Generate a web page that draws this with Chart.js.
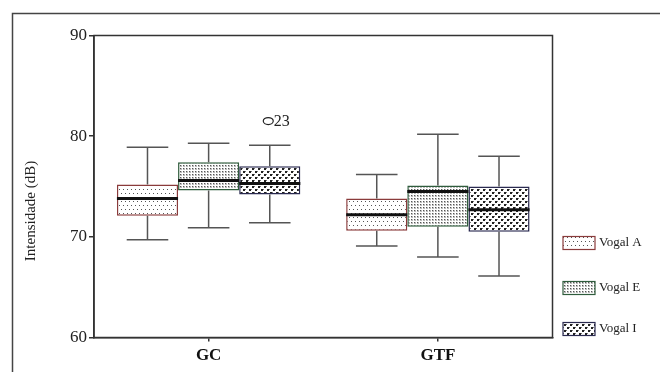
<!DOCTYPE html>
<html>
<head>
<meta charset="utf-8">
<script src="https://cdn.jsdelivr.net/npm/chart.js@4"></script>
<style>
  html, body { margin: 0; padding: 0; background: #fff; }
  #wrap { position: relative; width: 660px; height: 372px; }
</style>
</head>
<body>
<div id="wrap"><canvas id="box"></canvas></div>
<script>
// ── Data ─────────────────────────────────────────────
const groups  = ['GC', 'GTF'];
const vowels  = ['Vogal A', 'Vogal E', 'Vogal I'];
// [vowel][group]
const whiskLo = [[69.7, 69.1], [70.9, 68.0], [71.4, 66.1]];
const q1      = [[72.1, 70.6], [74.6, 71.0], [74.2, 70.5]];
const medians = [[73.8, 72.2], [75.6, 74.5], [75.3, 72.7]];
const q3      = [[75.2, 73.8], [77.4, 75.1], [77.0, 75.0]];
const whiskHi = [[78.9, 76.2], [79.3, 80.2], [79.1, 78.0]];
const outlierVowel = [2];
const outlierGroup = [0];
const outlierValue = [81.5];
const outlierLabel = ['23'];
const yTicks  = [60, 70, 80, 90];

// ── Fill patterns ────────────────────────────────────
function makePattern(w, h, draw) {
  const c = document.createElement('canvas');
  c.width = w; c.height = h;
  const g = c.getContext('2d');
  g.fillStyle = '#fff'; g.fillRect(0, 0, w, h);
  draw(g);
  return g.createPattern(c, 'repeat');
}
const patA = makePattern(4, 8, g => {
  g.fillStyle = '#555';
  g.fillRect(1, 1, 1, 1); g.fillRect(3, 5, 1, 1);
});
const patE = makePattern(3, 3, g => {
  g.fillStyle = '#bbb'; g.fillRect(0, 0, 2, 2);
  g.fillStyle = '#555'; g.fillRect(0, 0, 1, 1);
});
const patI = makePattern(6, 6, g => {
  g.fillStyle = '#222';
  g.fillRect(0, 0, 2, 2); g.fillRect(3, 3, 2, 2);
  g.fillStyle = '#777';
  g.fillRect(2, 0, 1, 1); g.fillRect(5, 3, 1, 1);
});
const fills   = [patA, patE, patI];
const borders = ['#8a3b3b', '#2f5c3c', '#2a2a50'];

const SERIF = "'Liberation Serif', 'Times New Roman', serif";
Chart.defaults.font.family = SERIF;
Chart.defaults.color = '#222';

// ── Box-plot extras: whiskers, medians, outliers, frame, legend ──
const boxExtras = {
  id: 'boxExtras',
  beforeDraw(chart) {
    const ctx = chart.ctx;
    ctx.save();
    ctx.strokeStyle = '#444';
    ctx.lineWidth = 1.5;
    ctx.beginPath();
    ctx.moveTo(12.5, 372); ctx.lineTo(12.5, 13.5); ctx.lineTo(660, 13.5);
    ctx.stroke();
    ctx.restore();
  },
  afterDatasetsDraw(chart) {
    const ctx = chart.ctx;
    const y = chart.scales.y;
    ctx.save();
    chart.data.datasets.forEach((ds, s) => {
      chart.getDatasetMeta(s).data.forEach((bar, g) => {
        const half = bar.width / 2;
        const cap  = bar.width * 0.34;
        const yHi = y.getPixelForValue(whiskHi[s][g]);
        const yLo = y.getPixelForValue(whiskLo[s][g]);
        const yQ3 = y.getPixelForValue(q3[s][g]);
        const yQ1 = y.getPixelForValue(q1[s][g]);
        ctx.strokeStyle = '#555';
        ctx.lineWidth = 1.5;
        ctx.beginPath();
        ctx.moveTo(bar.x, yQ3); ctx.lineTo(bar.x, yHi);
        ctx.moveTo(bar.x - cap, yHi); ctx.lineTo(bar.x + cap, yHi);
        ctx.moveTo(bar.x, yQ1); ctx.lineTo(bar.x, yLo);
        ctx.moveTo(bar.x - cap, yLo); ctx.lineTo(bar.x + cap, yLo);
        ctx.stroke();
        // median
        const yMed = y.getPixelForValue(medians[s][g]);
        ctx.strokeStyle = '#111';
        ctx.lineWidth = 3;
        ctx.beginPath();
        ctx.moveTo(bar.x - half, yMed); ctx.lineTo(bar.x + half, yMed);
        ctx.stroke();
      });
    });
    // outliers
    outlierValue.forEach((v, i) => {
      const bar = chart.getDatasetMeta(outlierVowel[i]).data[outlierGroup[i]];
      const py = y.getPixelForValue(v);
      const px = bar.x - 1.5;
      ctx.strokeStyle = '#222';
      ctx.lineWidth = 1.2;
      ctx.beginPath();
      ctx.ellipse(px, py, 5, 3.5, 0, 0, Math.PI * 2);
      ctx.stroke();
      ctx.fillStyle = '#222';
      ctx.font = '16px ' + SERIF;
      ctx.textBaseline = 'middle';
      ctx.fillText(outlierLabel[i], px + 5.5, py + 0.5);
    });
    // plot frame
    const a = chart.chartArea;
    ctx.strokeStyle = '#333';
    ctx.lineWidth = 1.5;
    ctx.strokeRect(a.left, a.top, a.right - a.left, a.bottom - a.top);
    ctx.restore();
  },
  afterDraw(chart) {
    const ctx = chart.ctx;
    ctx.save();
    // y-axis title
    ctx.translate(31, 211);
    ctx.rotate(-Math.PI / 2);
    ctx.fillStyle = '#222';
    ctx.font = '15px ' + SERIF;
    ctx.textAlign = 'center';
    ctx.textBaseline = 'middle';
    ctx.fillText('Intensidade (dB)', 0, 0);
    ctx.restore();
    // legend
    const rows = [243, 288, 329];
    ctx.save();
    chart.data.datasets.forEach((ds, s) => {
      const top = rows[s] - 6.5;
      ctx.fillStyle = ds.backgroundColor;
      ctx.fillRect(563, top, 32, 13);
      ctx.strokeStyle = ds.borderColor;
      ctx.lineWidth = 1.2;
      ctx.strokeRect(563, top, 32, 13);
      ctx.fillStyle = '#222';
      ctx.font = '13px ' + SERIF;
      ctx.textBaseline = 'middle';
      ctx.fillText(ds.label, 599, rows[s]);
    });
    ctx.restore();
  }
};

// ── Chart ────────────────────────────────────────────
new Chart(document.getElementById('box'), {
  type: 'bar',
  data: {
    labels: groups,
    datasets: vowels.map((name, s) => ({
      label: name,
      data: groups.map((_, g) => [q1[s][g], q3[s][g]]),
      backgroundColor: fills[s],
      borderColor: borders[s],
      borderWidth: 1.5,
      borderSkipped: false,
      categoryPercentage: 0.8,
      barPercentage: 1.0
    }))
  },
  options: {
    responsive: true, maintainAspectRatio: false, animation: false,
    layout: { padding: { top: 35.5, right: 107.5, left: 0, bottom: 0 } },
    plugins: { legend: { display: false }, tooltip: { enabled: false } },
    scales: {
      x: {
        grid: { drawOnChartArea: false, offset: false, tickLength: 4, color: '#333', lineWidth: 1.5 },
        border: { color: '#333', width: 1.5 },
        ticks: { font: { size: 17, weight: 'bold' }, color: '#111', padding: 4 },
        afterFit: s => { s.height = 34.5; }
      },
      y: {
        min: 60, max: 90,
        afterBuildTicks: s => { s.ticks = yTicks.map(v => ({ value: v })); },
        grid: { drawOnChartArea: false, tickLength: 5, color: '#333', lineWidth: 1.5 },
        border: { color: '#333', width: 1.5 },
        ticks: { font: { size: 17 }, color: '#222', padding: 2 },
        afterFit: s => { s.width = 94; }
      }
    }
  },
  plugins: [boxExtras]
});
</script>
</body>
</html>
